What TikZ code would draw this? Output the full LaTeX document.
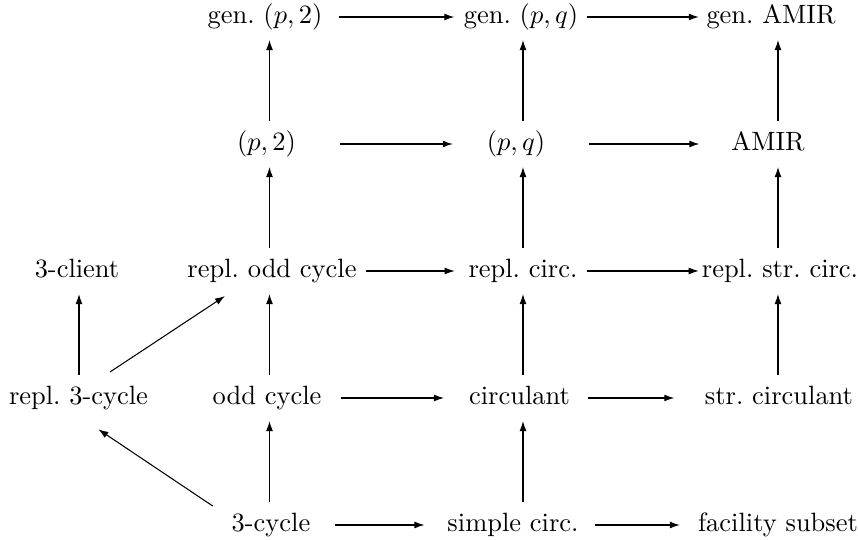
\documentclass[tikz,border=0pt]{standalone}
\usetikzlibrary{arrows.meta,calc}
\frenchspacing
\begin{document}
\begin{tikzpicture}[x=0.378pt,y=-0.378pt,
  lbl/.style={inner xsep=0pt,inner ysep=4pt,text height=7pt,text depth=2pt},
  arr/.style={-{Latex[length=3.8pt,width=2.6pt]},line width=0.4pt}]
\useasboundingbox (0,0) rectangle (858,540);
% column coordinates for vertical arrows
\coordinate (k1) at (79,0);
\coordinate (k2) at (269.5,0);
\coordinate (k3) at (523,0);
\coordinate (k4) at (778,0);
% row 1
\node[lbl] (g2) at (265,17) {gen.\ $(p,2)$};
\node[lbl] (g3) at (521,17) {gen.\ $(p,q)$};
\node[lbl] (g4) at (771,17) {gen.\ AMIR};
% row 2
\node[lbl] (p2) at (266.5,144) {$(p,2)$};
\node[lbl] (pq) at (516,144) {$(p,q)$};
\node[lbl] (amir) at (768,144) {AMIR};
% row 3
\node[lbl] (cl) at (77,271) {3-client};
\node[lbl] (rodd) at (272,271) {repl.\ odd cycle};
\node[lbl] (rcirc) at (523,271) {repl.\ circ.};
\node[lbl] (rstr) at (780,271) {repl.\ str.\ circ.};
% row 4
\node[lbl] (r3) at (78.5,398) {repl.\ 3-cycle};
\node[lbl] (odd) at (267,398) {odd cycle};
\node[lbl] (circ) at (519.5,398) {circulant};
\node[lbl] (strc) at (779,398) {str.\ circulant};
% row 5
\node[lbl] (c3) at (271,525) {3-cycle};
\node[lbl] (sc) at (513,525) {simple circ.};
\node[lbl] (fac) at (778,525) {facility subset};
% horizontal arrows
\draw[arr,shorten <=6.1pt,shorten >=3.4pt] (g2.east) -- (g3.west);
\draw[arr,shorten <=3.0pt,shorten >=2.7pt] (g3.east) -- (g4.west);
\draw[arr,shorten <=16.6pt,shorten >=12.6pt] (p2.east) -- (pq.west);
\draw[arr,shorten <=16.4pt,shorten >=11.9pt] (pq.east) -- (amir.west);
\draw[arr,shorten <=3.2pt,shorten >=5.0pt] (rodd.east) -- (rcirc.west);
\draw[arr,shorten <=3.5pt,shorten >=1.0pt] (rcirc.east) -- (rstr.west);
\draw[arr,shorten <=7.2pt,shorten >=9.3pt] (odd.east) -- (circ.west);
\draw[arr,shorten <=6.7pt,shorten >=11.4pt] (circ.east) -- (strc.west);
\draw[arr,shorten <=9pt,shorten >=8.5pt] (c3.east) -- (sc.west);
\draw[arr,shorten <=6.2pt,shorten >=6.7pt] (sc.east) -- (fac.west);
% vertical arrows
\draw[arr] (r3.north -| k1) -- (cl.south -| k1);
\draw[arr] (c3.north -| k2) -- (odd.south -| k2);
\draw[arr] (odd.north -| k2) -- (rodd.south -| k2);
\draw[arr] (rodd.north -| k2) -- (p2.south -| k2);
\draw[arr] (p2.north -| k2) -- (g2.south -| k2);
\draw[arr] (sc.north -| k3) -- (circ.south -| k3);
\draw[arr] (circ.north -| k3) -- (rcirc.south -| k3);
\draw[arr] (rcirc.north -| k3) -- (pq.south -| k3);
\draw[arr] (pq.north -| k3) -- (g3.south -| k3);
\draw[arr] (strc.north -| k4) -- (rstr.south -| k4);
\draw[arr] (rstr.north -| k4) -- (amir.south -| k4);
\draw[arr] (amir.north -| k4) -- (g4.south -| k4);
% diagonal arrows
\draw[arr] ($(r3.center)+(31.5,-26)$) -- ($(rodd.center)+(-47,25)$);
\draw[arr] ($(c3.center)+(-58.3,-19)$) -- ($(r3.center)+(19.8,31.3)$);
\end{tikzpicture}
\end{document}
